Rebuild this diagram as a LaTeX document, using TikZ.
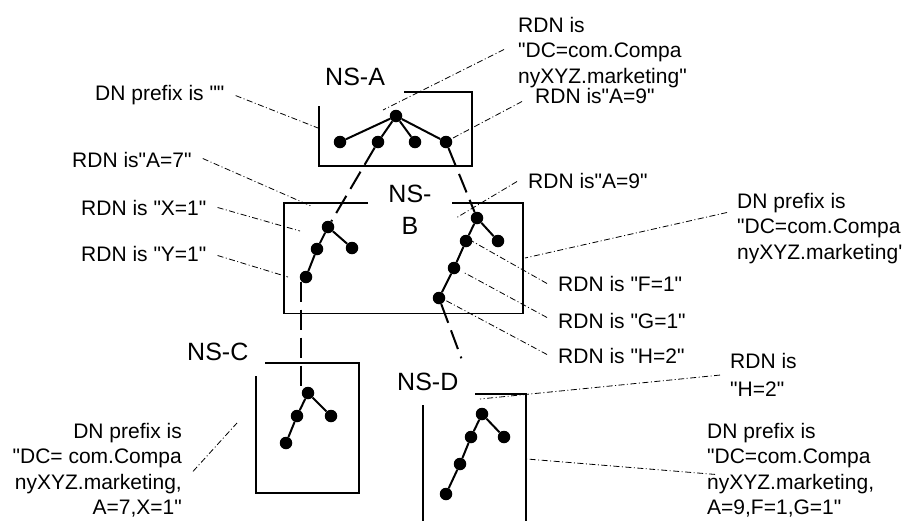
\documentclass[tikz,border=0pt]{standalone}
\usepackage{fontspec}
\newfontfamily\lab{Liberation Sans}
\usetikzlibrary{calc}
\begin{document}
\begin{tikzpicture}[x=1pt,y=-1pt,
  dot/.style={circle,fill=black,inner sep=0pt,minimum size=12.5pt},
  edge/.style={line width=2pt},
  link/.style={line width=2pt,dash pattern=on 20pt off 8pt},
  box/.style={line width=1.1pt},
  leader/.style={line width=0.8pt,dash pattern=on 6pt off 2.5pt on 1pt off 2.5pt},
  lbl/.style={font=\lab\fontsize{21}{25.5}\selectfont,inner sep=0pt},
  ns/.style={font=\lab\fontsize{25}{32}\selectfont,inner sep=0pt}]
\useasboundingbox (0,0) rectangle (905,520);

% boxes
\draw[box] (404,92) -- (472,92) -- (472,166) -- (319,166) -- (319,106);
\draw[box] (368,203) -- (284,203) -- (284,313.5) -- (523,313.5) -- (523,203) -- (452,203);
\draw[box] (265,363) -- (359,363) -- (359,493) -- (256,493) -- (256,376);
\draw[box] (475,394) -- (526,394) -- (526,525);
\draw[box] (423,405) -- (423,525);

% NS-A tree
\node[dot] (a0) at (396,116) {};
\node[dot] (a1) at (340,142) {};
\node[dot] (a2) at (378,142) {};
\node[dot] (a3) at (415,142) {};
\node[dot] (a4) at (446,142) {};
\foreach \c in {a1,a2,a3,a4} \draw[edge] (a0) -- (\c);

% NS-B left tree
\node[dot] (b1) at (328,227) {};
\node[dot] (b2) at (352,248) {};
\node[dot] (b3) at (317,249) {};
\node[dot] (b4) at (306,277) {};
\draw[edge] (b1) -- (b2);
\draw[edge] (b1) -- (b3);
\draw[edge] (b3) -- (b4);

% NS-B right tree
\node[dot] (r1) at (477,218) {};
\node[dot] (r2) at (498,241) {};
\node[dot] (r3) at (466,241) {};
\node[dot] (r4) at (454,268) {};
\node[dot] (r5) at (439,298) {};
\draw[edge] (r1) -- (r2);
\draw[edge] (r1) -- (r3);
\draw[edge] (r3) -- (r4);
\draw[edge] (r4) -- (r5);

% NS-C tree
\node[dot] (c1) at (308,393) {};
\node[dot] (c2) at (331,416) {};
\node[dot] (c3) at (297,416) {};
\node[dot] (c4) at (286,443) {};
\draw[edge] (c1) -- (c2);
\draw[edge] (c1) -- (c3);
\draw[edge] (c3) -- (c4);

% NS-D tree
\node[dot] (d1) at (482,414) {};
\node[dot] (d2) at (504,437) {};
\node[dot] (d3) at (471,437) {};
\node[dot] (d4) at (460,464) {};
\node[dot] (d5) at (446,494) {};
\draw[edge] (d1) -- (d2);
\draw[edge] (d1) -- (d3);
\draw[edge] (d3) -- (d4);
\draw[edge] (d4) -- (d5);

% dashed links between naming spaces
\draw[link] (a2) -- (b1);
\draw[link] (a4) -- (r1);
\draw[link] (b4.south west) -- (b4.south west |- c1.north);
\draw[link] (r5) -- ($(r5)!0.52!(d1)$);

% labels
\node[ns,anchor=base west] (nsA) at (325,85) {NS-A};
\node[ns,anchor=north,align=center] (nsB) at (410,185) {NS-\\B};
\node[ns,anchor=base west] (nsC) at (187,360) {NS-C};
\node[ns,anchor=base west] (nsD) at (397,390) {NS-D};

\node[lbl,anchor=north west,align=left] (tDC) at (518,17) {RDN is\\"DC=com.Compa\\nyXYZ.marketing"};
\node[lbl,anchor=base west] (tA9a) at (535,103) {RDN is"A=9"};
\node[lbl,anchor=base west] (tDNa) at (95,100) {DN prefix is ""};
\node[lbl,anchor=base west] (tA7) at (72,167) {RDN is"A=7"};
\node[lbl,anchor=base west] (tX1) at (81,215) {RDN is "X=1"};
\node[lbl,anchor=base west] (tY1) at (81,261) {RDN is "Y=1"};
\node[lbl,anchor=base west] (tA9b) at (528,188) {RDN is"A=9"};
\node[lbl,anchor=north west,align=left] (tDNb) at (737,193) {DN prefix is\\"DC=com.Compa\\nyXYZ.marketing'};
\node[lbl,anchor=base west] (tF1) at (558,291) {RDN is "F=1"};
\node[lbl,anchor=base west] (tG1) at (558,328) {RDN is "G=1"};
\node[lbl,anchor=base west] (tH2) at (558,363) {RDN is "H=2"};
\node[lbl,anchor=north west,align=left] (tH2b) at (730,353) {RDN is\\[3pt]"H=2"};
\node[lbl,anchor=north east,align=right] (tDNc) at (182,423) {DN prefix is\\"DC= com.Compa\\nyXYZ.marketing,\\A=7,X=1"};
\node[lbl,anchor=north west,align=left] (tDNd) at (707,423) {DN prefix is\\"DC=com.Compa\\nyXYZ.marketing,\\A=9,F=1,G=1"};

% leader end points
\coordinate (eDC) at (383,110);
\coordinate (eA9a) at (453,138);
\coordinate (eDNa) at (318,128);
\coordinate (eA7) at (311,206);
\coordinate (eX1) at (300,231);
\coordinate (eY1) at (288,277);
\coordinate (eA9b) at (456,218);
\coordinate (eDNb) at (525,258);
\coordinate (eF1) at (470,240);
\coordinate (eG1) at (463,272);
\coordinate (eH2) at (443,299);
\coordinate (eH2b) at (480,399);
\coordinate (eDNd) at (527,459);
\coordinate (eDNc) at (237,423);

% leaders
\draw[leader] ([shift={(-14,-3)}]tDC.west) -- (eDC);
\draw[leader] ([shift={(-13,6)}]tA9a.west) -- (eA9a);
\draw[leader] ([shift={(11,1)}]tDNa.east) -- (eDNa);
\draw[leader] ([shift={(11,-1)}]tA7.east) -- (eA7);
\draw[leader] ([shift={(11,0)}]tX1.east) -- (eX1);
\draw[leader] ([shift={(11,2)}]tY1.east) -- (eY1);
\draw[leader] ([shift={(-11,1)}]tA9b.west) -- (eA9b);
\draw[leader] ([shift={(-10,-16)}]tDNb.west) -- (eDNb);
\draw[leader] ([shift={(-11,0)}]tF1.west) -- (eF1);
\draw[leader] ([shift={(-11,-3)}]tG1.west) -- (eG1);
\draw[leader] ([shift={(-11,-1)}]tH2.west) -- (eH2);
\draw[leader] ([shift={(-10,0)}]tH2b.west) -- (eH2b);
\draw[leader] ([shift={(8,4)}]tDNd.west) -- (eDNd);
\draw[leader] ([shift={(11,1)}]tDNc.east) -- (eDNc);
\end{tikzpicture}
\end{document}
